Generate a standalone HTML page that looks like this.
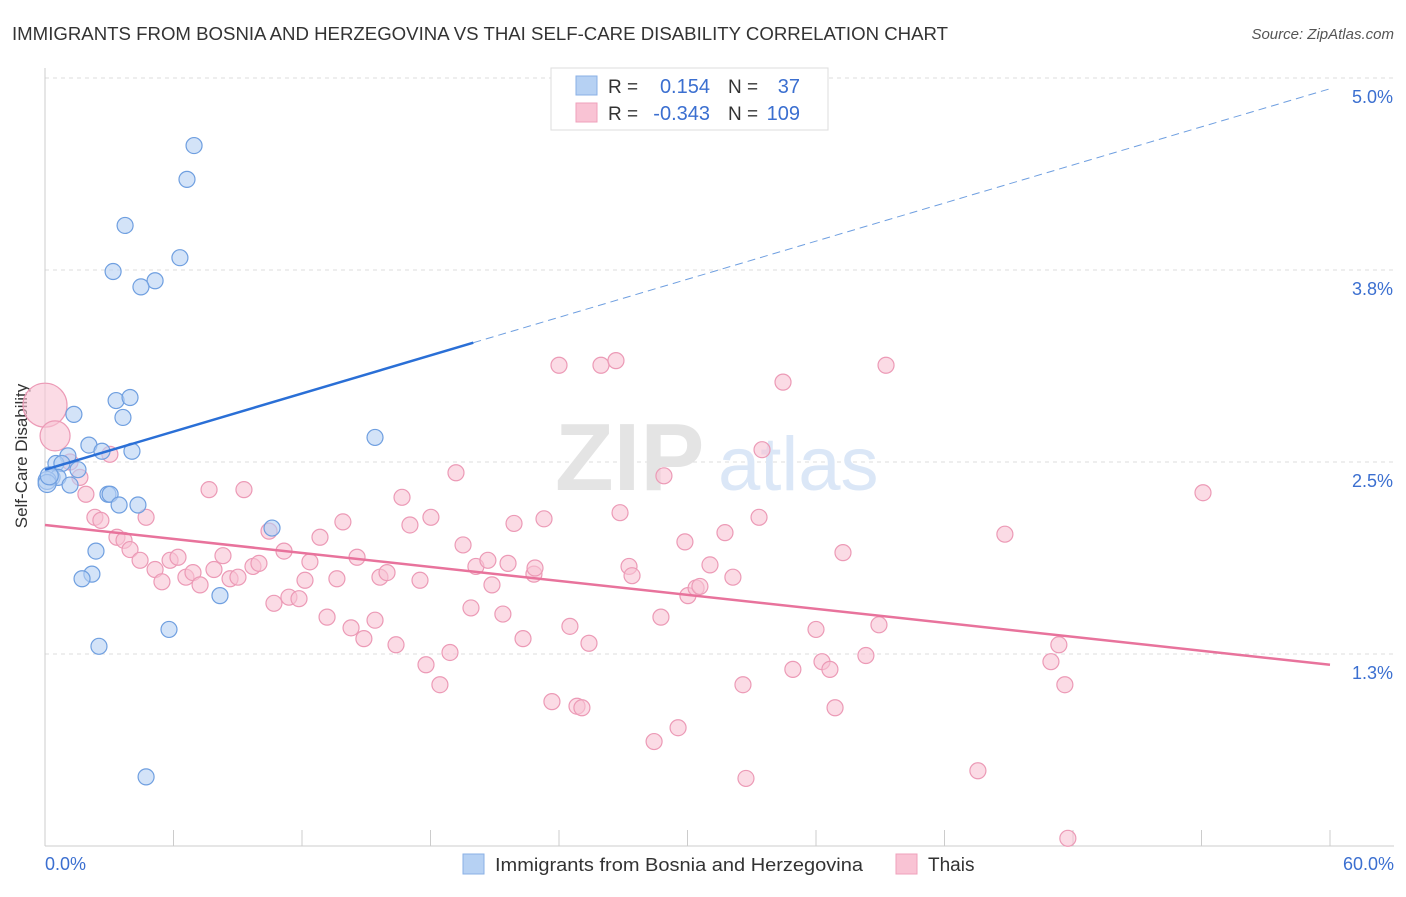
<!DOCTYPE html>
<html><head><meta charset="utf-8"><style>
body{margin:0;background:#fff;font-family:"Liberation Sans",sans-serif}
svg text{font-family:"Liberation Sans",sans-serif}
</style></head><body>
<svg id="chart" width="1406" height="892" xmlns="http://www.w3.org/2000/svg">
<text x="12" y="40" font-size="18" fill="#333" textLength="936" lengthAdjust="spacingAndGlyphs">IMMIGRANTS FROM BOSNIA AND HERZEGOVINA VS THAI SELF-CARE DISABILITY CORRELATION CHART</text>
<text x="1394" y="39" font-size="15" fill="#555" font-style="italic" text-anchor="end">Source: ZipAtlas.com</text>
<g id="grid"></g>
<g><text x="555" y="490" font-size="96" font-family="Liberation Serif" fill="#e4e4e4" font-weight="bold">ZIP</text><text x="718" y="490" font-size="76" fill="#dbe7f7">atlas</text></g>
<line x1="45" y1="68" x2="45" y2="846" stroke="#ccc"/>
<line x1="45" y1="846" x2="1394" y2="846" stroke="#ccc"/>
<text x="27" y="456" font-size="17" fill="#333" transform="rotate(-90 27 456)" text-anchor="middle">Self-Care Disability</text>
<text x="45" y="870" font-size="18" fill="#3b6fd0">0.0%</text>
<text x="1394" y="870" font-size="18" fill="#3b6fd0" text-anchor="end">60.0%</text>
<g id="marks"></g>
<g>
<rect x="551" y="68" width="277" height="62" fill="#fff" stroke="#ddd"/>
<rect x="576" y="76" width="21" height="19" fill="#b6d1f3" stroke="#8ab0e6"/>
<rect x="576" y="103" width="21" height="19" fill="#f9c3d4" stroke="#efa0bb"/>
<text x="608" y="93" font-size="19" fill="#333">R =</text><text x="710" y="93" font-size="20" fill="#3b6fd0" text-anchor="end">0.154</text>
<text x="728" y="93" font-size="19" fill="#333">N =</text><text x="800" y="93" font-size="20" fill="#3b6fd0" text-anchor="end">37</text>
<text x="608" y="120" font-size="19" fill="#333">R =</text><text x="710" y="120" font-size="20" fill="#3b6fd0" text-anchor="end">-0.343</text>
<text x="728" y="120" font-size="19" fill="#333">N =</text><text x="800" y="120" font-size="20" fill="#3b6fd0" text-anchor="end">109</text>
</g>
<g>
<rect x="463" y="854" width="21" height="20" fill="#b6d1f3" stroke="#8ab0e6"/>
<text x="495" y="871" font-size="18" fill="#333" textLength="368" lengthAdjust="spacingAndGlyphs">Immigrants from Bosnia and Herzegovina</text>
<rect x="896" y="854" width="21" height="20" fill="#f9c3d4" stroke="#efa0bb"/>
<text x="928" y="871" font-size="19" fill="#333">Thais</text>
</g>
</svg>
<script>
const yTicks=[1.25,2.5,3.75,5.0];
const yTickLabels=["1.3%","2.5%","3.8%","5.0%"];
const xTicks=[0,6,12,18,24,30,36,42,48,54,60];
const blueX=[6.96,6.63,3.74,3.18,6.30,5.14,4.48,1.35,3.32,3.97,3.64,15.41,2.05,2.66,4.06,1.07,0.51,0.79,1.54,0.33,0.61,1.17,2.94,3.04,3.46,4.34,10.60,2.38,2.19,1.73,8.17,5.79,2.52,4.72,0.1,0.1,0.2];
const blueY=[4.56,4.34,4.04,3.74,3.83,3.68,3.64,2.81,2.90,2.92,2.79,2.66,2.61,2.57,2.57,2.54,2.49,2.49,2.45,2.40,2.40,2.35,2.29,2.29,2.22,2.22,2.07,1.92,1.77,1.74,1.63,1.41,1.30,0.45,2.38,2.36,2.41];
const pinkX=[0.0,0.47,3.03,1.17,1.63,1.91,2.33,2.61,4.72,3.36,3.69,3.97,4.44,5.14,5.46,5.84,6.21,6.58,6.91,7.24,7.66,7.89,8.31,8.64,9.01,9.29,9.71,9.99,10.46,10.69,11.16,11.39,11.86,12.14,12.37,12.84,13.17,13.63,13.91,14.29,14.57,14.89,15.41,15.64,15.97,16.39,16.67,17.04,17.51,17.79,18.02,18.44,18.91,19.19,19.52,19.89,20.12,20.68,20.87,21.38,21.62,21.90,22.32,22.83,22.88,23.30,23.67,24.00,24.51,24.84,25.07,25.40,25.96,26.66,26.85,27.27,27.41,28.44,28.76,28.90,29.56,29.88,30.02,30.40,30.58,31.05,31.75,32.12,32.59,32.73,33.34,33.48,34.46,34.92,36.00,36.28,36.65,36.89,37.26,38.33,38.94,39.27,43.56,44.82,46.97,47.34,47.62,47.76,54.07];
const pinkY=[2.87,2.67,2.55,2.50,2.40,2.29,2.14,2.12,2.14,2.01,1.99,1.93,1.86,1.80,1.72,1.86,1.88,1.75,1.78,1.70,2.32,1.80,1.89,1.74,1.75,2.32,1.82,1.84,2.05,1.58,1.92,1.62,1.61,1.73,1.85,2.01,1.49,1.74,2.11,1.42,1.88,1.35,1.47,1.75,1.78,1.31,2.27,2.09,1.73,1.18,2.14,1.05,1.26,2.43,1.96,1.55,1.82,1.86,1.70,1.51,1.84,2.10,1.35,1.77,1.81,2.13,0.94,3.13,1.43,0.91,0.90,1.32,3.13,3.16,2.17,1.82,1.76,0.68,1.49,2.41,0.77,1.98,1.63,1.68,1.69,1.83,2.04,1.75,1.05,0.44,2.14,2.58,3.02,1.15,1.41,1.20,1.15,0.90,1.91,1.24,1.44,3.13,0.49,2.03,1.20,1.31,1.05,0.05,2.30];
const blueTrend=[2.45,4.93];
const pinkTrend=[2.09,1.18];
const NS="http://www.w3.org/2000/svg";
const sx=v=>45+v/60*1285;
const sy=v=>846-v*153.6;
const grid=document.getElementById('grid'),marks=document.getElementById('marks');
function mk(tag,attrs,parent){const e=document.createElementNS(NS,tag);for(const k in attrs)e.setAttribute(k,attrs[k]);parent.appendChild(e);return e;}
yTicks.forEach((t,i)=>{
 const l=mk('line',{x1:45,x2:1394,y1:sy(t),y2:sy(t),stroke:'#ddd','stroke-dasharray':'4 4'},grid);
 
 
 const tx=mk('text',{x:1393,y:sy(t)+25,'font-size':18,fill:'#3b6fd0','text-anchor':'end'},grid);
 tx.textContent=yTickLabels[i];
 
 
});
xTicks.forEach(t=>{
 const l=mk('line',{x1:sx(t),x2:sx(t),y1:830,y2:846,stroke:'#ccc'},grid);
 
 
});
pinkX.forEach((x,i)=>{
 const r=i==0?22:(i==1?15:8);
 const c=mk('circle',{cx:sx(x),cy:sy(pinkY[i]),r:r,fill:'#f9c3d4','fill-opacity':0.6,stroke:'#ec9ab6','stroke-width':1.2},marks);
 
 
});
blueX.forEach((x,i)=>{
 const r=i>=34?9:8;
 const c=mk('circle',{cx:sx(x),cy:sy(blueY[i]),r:r,fill:'#b6d1f3','fill-opacity':0.6,stroke:'#6f9fe0','stroke-width':1.2},marks);
 
 
});
const bxSplit=20;
const by=x=>blueTrend[0]+(blueTrend[1]-blueTrend[0])*x/60;
const b1=mk('line',{x1:sx(0),y1:sy(by(0)),x2:sx(bxSplit),y2:sy(by(bxSplit)),stroke:'#2a6fd6','stroke-width':2.5},marks);


const b2=mk('line',{x1:sx(bxSplit),y1:sy(by(bxSplit)),x2:sx(60),y2:sy(by(60)),stroke:'#6f9fe0','stroke-width':1,'stroke-dasharray':'8 5'},marks);


const p1=mk('line',{x1:sx(0),y1:sy(pinkTrend[0]),x2:sx(60),y2:sy(pinkTrend[1]),stroke:'#e8739c','stroke-width':2.5},marks);


</script>
</body></html>
